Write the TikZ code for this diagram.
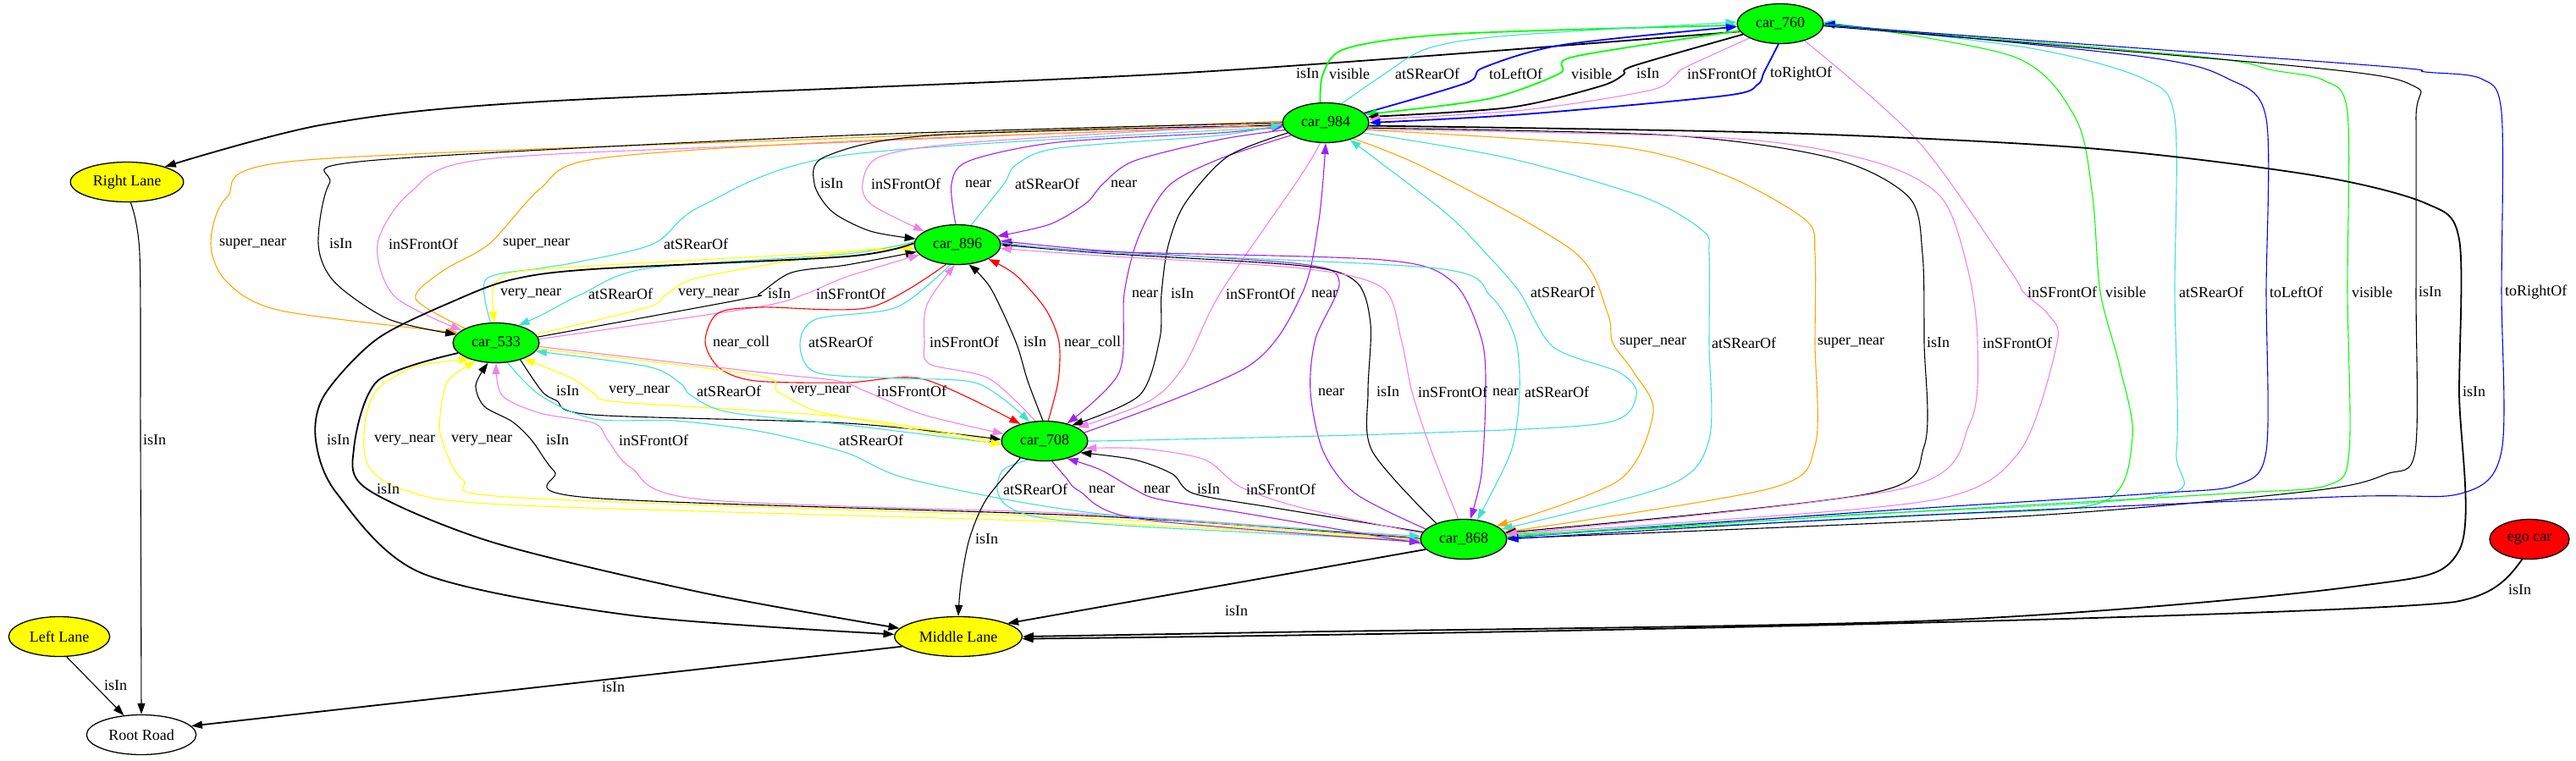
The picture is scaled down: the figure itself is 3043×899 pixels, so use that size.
\documentclass[tikz,border=0pt]{standalone}
\usepackage{fontspec}
\setmainfont{Liberation Serif}
\usetikzlibrary{arrows.meta,shapes.geometric}
\definecolor{vgreen}{RGB}{0,255,0}
\definecolor{turq}{RGB}{64,224,208}
\definecolor{viol}{RGB}{238,130,238}
\definecolor{purp}{RGB}{160,32,240}
\definecolor{orng}{RGB}{255,165,0}
\definecolor{yell}{RGB}{255,255,0}
\pgfdeclarelayer{edges}
\pgfsetlayers{edges,main}
\tikzset{
  obj/.style={ellipse, draw, line width=1.3pt, inner xsep=7pt, inner ysep=2pt,
              minimum height=47pt, font=\fontsize{18}{20}\selectfont},
  car/.style={obj, fill=vgreen},
  lane/.style={obj, fill=yell},
  lbl/.style={anchor=west, inner sep=1pt, font=\fontsize{18}{20}\selectfont},
  rel/.style={line width=1.1pt, -{Triangle[length=13pt,width=9pt]}},
  bold/.style={line width=1.8pt},
  isin/.style={rel, black},
  visib/.style={rel, vgreen},
  srear/.style={rel, turq},
  lrof/.style={rel, blue},
  sfront/.style={rel, viol},
  nearr/.style={rel, purp},
  snear/.style={rel, orng},
  vnear/.style={rel, yell},
  ncoll/.style={rel, red}
}

\begin{document}
\begin{tikzpicture}[x=1pt, y=-1pt]
    \useasboundingbox (0,0) rectangle (3043,899);

    % objects
    \node[car] (c760) at (2103,28)  {car\_760};
    \node[car] (c984) at (1566,145) {car\_984};
    \node[car] (c896) at (1131,289) {car\_896};
    \node[car] (c533) at (586,405)  {car\_533};
    \node[car] (c708) at (1234,521) {car\_708};
    \node[car] (c868) at (1729,637) {car\_868};
    \node[obj, fill=red] (ego) at (2988,637) {ego car};
    \node[lane] (rl) at (150,215)  {Right Lane};
    \node[lane] (ml) at (1132,752) {Middle Lane};
    \node[lane] (ll) at (70,752)   {Left Lane};
    \node[obj, fill=white] (rr) at (167,868) {Root Road};

    \begin{pgfonlayer}{edges}
    % car_760 <-> car_984
    \draw[isin,bold] plot[smooth] coordinates {(c760.191) (1400,86) (640,120) (383,147) (rl.22)};
    \draw[visib,bold] plot[smooth] coordinates {(c984.105) (1563,87) (1591,57) (1719,40) (c760.182)};
    \draw[srear] plot[smooth] coordinates {(c984.50) (1636,87) (1687,57) (1783,42) (c760.178)};
    \draw[lrof,bold] plot[smooth] coordinates {(c984.14) (1732,98) (1752,80) (1846,53) (c760.184)};
    \draw[visib,bold] plot[smooth] coordinates {(c760.190) (1859,67) (1842,87) (1757,117) (c984.12)};
    \draw[isin,bold] plot[smooth] coordinates {(c760.196) (1929,78) (1918,88) (1890,102) (1783,127) (c984.8)};
    \draw[sfront] plot[smooth] coordinates {(c760.205) (1990,80) (1978,90) (1948,107) (1800,130) (c984.4)};
    \draw[lrof,bold] plot[smooth] coordinates {(c760.265) (2084,85) (2076,100) (2038,113) (1800,135) (c984.0)};

    % car_760 <-> car_868
    \draw[sfront] plot[smooth] coordinates {(c760.-35) (2266,167) (2375,320) (2390,345) (2420,372) (2430,405) (2386,533) (2287,590) (1950,620) (c868.8)};
    \draw[visib] plot[smooth] coordinates {(c868.6) (2000,622) (2287,608) (2484,593) (2519,517) (2504,433) (2481,345) (2472,233) (2452,140) (2379,67) (c760.2)};
    \draw[srear] plot[smooth] coordinates {(c868.4) (2100,612) (2543,587) (2571,533) (2569,345) (2569,140) (2532,93) (2399,57) (c760.1)};
    \draw[lrof] plot[smooth] coordinates {(c868.2) (2200,605) (2543,583) (2642,573) (2677,533) (2677,345) (2677,140) (2632,93) (2532,67) (c760.0)};
    \draw[visib] plot[smooth] coordinates {(c760.-1) (2599,67) (2685,83) (2745,95) (2773,133) (2773,345) (2775,533) (2750,573) (2632,583) (2200,608) (c868.3)};
    \draw[isin] plot[smooth] coordinates {(c760.-3) (2732,80) (2852,102) (2854,140) (2854,345) (2853,533) (2819,560) (2730,580) (2386,610) (c868.1)};
    \draw[lrof] plot[smooth] coordinates {(c760.-2) (2798,77) (2865,85) (2931,93) (2955,133) (2955,345) (2955,533) (2907,583) (2760,587) (2200,612) (c868.0)};

    % car_984 -> car_868, Middle Lane
    \draw[snear] plot[smooth] coordinates {(c984.-30) (1687,200) (1859,297) (1899,370) (1905,405) (1930,440) (1953,487) (1913,567) (c868.22)};
    \draw[srear] plot[smooth] coordinates {(c984.-15) (1783,187) (1942,233) (2012,273) (2019,300) (2019,405) (2019,519) (1972,573) (c868.15)};
    \draw[snear] plot[smooth] coordinates {(c984.-10) (1910,173) (2038,207) (2133,260) (2144,300) (2144,405) (2144,527) (2091,577) (c868.10)};
    \draw[isin] plot[smooth] coordinates {(c984.-7) (1974,160) (2165,187) (2255,233) (2271,300) (2273,405) (2273,527) (2209,583) (c868.9)};
    \draw[sfront] plot[smooth] coordinates {(c984.-9) (2038,163) (2210,190) (2293,233) (2325,320) (2336,405) (2327,500) (2248,577) (c868.7)};
    \draw[isin,bold] plot[smooth] coordinates {(c984.-4) (2101,157) (2466,175) (2732,207) (2865,240) (2905,283) (2905,463) (2905,650) (2780,693) (2287,733) (1500,747) (ml.0)};

    % car_984 <-> car_533
    \draw[snear] plot[smooth] coordinates {(c984.178) (1000,163) (351,190) (268,233) (249,288) (268,333) (332,367) (c533.165)};
    \draw[isin] plot[smooth] coordinates {(c984.180) (1000,160) (434,190) (389,217) (376,288) (395,333) (459,377) (c533.168)};
    \draw[sfront] plot[smooth] coordinates {(c984.182) (1000,168) (574,188) (485,227) (446,288) (466,350) (c533.160)};
    \draw[snear] plot[smooth] coordinates {(c533.155) (491,353) (523,320) (578,288) (638,223) (702,188) (1000,167) (c984.184)};
    \draw[srear] plot[smooth] coordinates {(c533.105) (574,330) (638,317) (680,310) (772,288) (829,243) (1000,183) (c984.186)};

    % car_984 <-> car_896
    \draw[isin] plot[smooth] coordinates {(c984.183) (1100,160) (975,185) (962,217) (983,250) (1028,273) (c896.172)};
    \draw[sfront] plot[smooth] coordinates {(c984.181) (1150,168) (1040,185) (1019,217) (1030,242) (c896.158)};
    \draw[nearr] plot[smooth] coordinates {(c896.95) (1124,217) (1145,190) (1250,168) (1440,157) (c984.185)};
    \draw[srear] plot[smooth] coordinates {(c896.55) (1186,217) (1200,195) (1250,175) (1440,160) (c984.182)};
    \draw[nearr] plot[smooth] coordinates {(c984.190) (1440,165) (1340,190) (1303,217) (1283,240) (1240,265) (c896.12)};

    % car_984 <-> car_708
    \draw[nearr] plot[smooth] coordinates {(c984.200) (1440,188) (1380,220) (1345,280) (1328,347) (1322,440) (c708.38)};
    \draw[isin] plot[smooth] coordinates {(c984.195) (1450,185) (1400,240) (1380,290) (1372,347) (1370,400) (1346,467) (c708.30)};
    \draw[sfront] plot[smooth] coordinates {(c984.255) (1535,210) (1441,347) (1400,430) (1359,473) (c708.22)};
    \draw[nearr] plot[smooth] coordinates {(c708.12) (1474,433) (1538,347) (1558,260) (c984.270)};
    \draw[srear] plot[smooth] coordinates {(c708.0) (1346,520) (1665,512) (1894,500) (1933,467) (1913,440) (1835,410) (1795,345) (1756,300) (1706,250) (c984.-35)};

    % car_896 <-> car_533
    \draw[vnear] plot[smooth] coordinates {(c896.178) (1000,297) (640,318) (590,330) (582,347) (c533.95)};
    \draw[srear] plot[smooth] coordinates {(c896.176) (1000,300) (765,317) (688,347) (640,372) (c533.38)};
    \draw[vnear] plot[smooth] coordinates {(c533.12) (765,363) (788,347) (829,327) (1000,298) (c896.185)};
    \draw[isin] plot[smooth] coordinates {(c533.8) (880,353) (897,347) (935,322) (1000,313) (c896.190)};
    \draw[sfront] plot[smooth] coordinates {(c533.5) (893,363) (952,347) (1000,327) (c896.195)};

    % car_896 <-> car_708
    \draw[ncoll] plot[smooth] coordinates {(c896.240) (1028,363) (900,363) (848,370) (833,404) (850,435) (893,450) (1000,452) (1091,448) (c708.145)};
    \draw[srear] plot[smooth] coordinates {(c896.250) (1059,363) (964,377) (945,407) (964,440) (1059,447) (1155,453) (c708.128)};
    \draw[sfront] plot[smooth] coordinates {(c708.115) (1168,447) (1098,430) (1092,404) (1095,360) (c896.262)};
    \draw[isin] plot[smooth] coordinates {(c708.95) (1214,450) (1200,404) (1170,340) (c896.300)};
    \draw[ncoll] plot[smooth] coordinates {(c708.80) (1250,450) (1251,404) (1235,365) (1200,325) (c896.335)};

    % car_868 <-> car_896
    \draw[nearr] plot[smooth] coordinates {(c868.165) (1601,583) (1563,533) (1548,463) (1554,400) (1582,333) (1538,312) (1300,296) (c896.5)};
    \draw[isin] plot[smooth] coordinates {(c868.150) (1621,533) (1616,463) (1619,383) (1602,333) (1538,314) (1300,299) (c896.0)};
    \draw[sfront] plot[smooth] coordinates {(c868.105) (1691,533) (1668,463) (1655,400) (1633,340) (1538,317) (1300,302) (c896.-5)};
    \draw[nearr] plot[smooth] coordinates {(c896.2) (1300,297) (1633,307) (1716,333) (1750,400) (1755,463) (1750,560) (c868.72)};
    \draw[srear] plot[smooth] coordinates {(c896.3) (1300,298) (1697,317) (1761,350) (1790,400) (1795,463) (1785,533) (c868.55)};

    % car_533 <-> car_708
    \draw[isin] plot[smooth] coordinates {(c533.-35) (640,462) (657,473) (700,490) (1000,500) (c708.178)};
    \draw[vnear] plot[smooth] coordinates {(c708.182) (1000,493) (733,475) (702,465) (676,447) (c533.-30)};
    \draw[srear] plot[smooth] coordinates {(c708.184) (1000,502) (861,487) (816,467) (804,453) (765,433) (c533.-12)};
    \draw[vnear] plot[smooth] coordinates {(c533.-8) (893,443) (918,462) (957,483) (1000,493) (c708.185)};
    \draw[sfront] plot[smooth] coordinates {(c533.-5) (900,440) (990,450) (1022,462) (1091,490) (c708.170)};

    % car_868 <-> car_533
    \draw[vnear] plot[smooth] coordinates {(c868.182) (1300,618) (614,597) (481,580) (435,550) (431,500) (446,460) (491,433) (c533.212)};
    \draw[vnear] plot[smooth] coordinates {(c868.181) (1300,613) (614,588) (547,567) (522,520) (520,490) (529,450) (c533.222)};
    \draw[isin] plot[smooth] coordinates {(c868.179) (1300,610) (697,588) (655,557) (628,520) (605,498) (572,480) (562,455) (c533.248)};
    \draw[sfront] plot[smooth] coordinates {(c868.178) (1300,608) (829,590) (746,553) (718,520) (702,500) (638,488) (593,467) (c533.270)};
    \draw[srear] plot[smooth] coordinates {(c533.-60) (638,467) (702,495) (797,497) (900,510) (1000,535) (1078,567) (1300,607) (c868.176)};

    % car_708 <-> car_868
    \draw[srear] plot[smooth] coordinates {(c708.228) (1185,555) (1178,578) (1190,598) (1232,612) (1346,622) (c868.182)};
    \draw[nearr] plot[smooth] coordinates {(c708.-70) (1260,565) (1275,580) (1346,613) (c868.184)};
    \draw[nearr] plot[smooth] coordinates {(c868.186) (1474,607) (1370,590) (1340,578) (1300,555) (c708.-38)};
    \draw[isin] plot[smooth] coordinates {(c868.170) (1506,600) (1410,583) (1385,560) (1340,543) (c708.-18)};
    \draw[sfront] plot[smooth] coordinates {(c868.172) (1538,600) (1465,575) (1423,543) (1350,530) (c708.-10)};

    % lanes and road
    \draw[isin] plot[smooth] coordinates {(c708.215) (1165,590) (1145,637) (1135,690) (ml.90)};
    \draw[isin,bold] plot[smooth] coordinates {(c533.195) (446,450) (418,530) (434,578) (580,640) (829,700) (ml.172)};
    \draw[isin,bold] plot[smooth] coordinates {(c896.178) (1000,303) (700,318) (606,330) (542,353) (446,400) (383,467) (373,520) (398,583) (498,677) (746,727) (ml.178)};
    \draw[isin,bold] (c868.195) -- (ml.15);
    \draw[isin,bold] (ego.250) .. controls (2962,685) and (2945,703) .. (2900,711)
                     .. controls (2800,724) and (2000,746) .. (ml.-2);
    \draw[isin,bold] (ml.190) -- (rr.10);
    \draw[isin] plot[smooth] coordinates {(rl.-80) (165,300) (166,520) (rr.90)};
    \draw[isin] (ll.-70) -- (rr.132);
    \end{pgfonlayer}

    % labels: car_760 <-> car_984
    \node[lbl] (l1) at (1530,87) {isIn};
    \node[lbl] (l2) at (1569,87) {visible};
    \node[lbl] (l3) at (1647,87) {atSRearOf};
    \node[lbl] (l4) at (1758,87) {toLeftOf};
    \node[lbl] (l5) at (1855,87) {visible};
    \node[lbl] (l6) at (1932,87) {isIn};
    \node[lbl] (l7) at (1992,87) {inSFrontOf};
    \node[lbl] (l8) at (2090,87) {toRightOf};
    % labels: car_760 <-> car_868
    \node[lbl] (l9)  at (2394,345) {inSFrontOf};
    \node[lbl] (l10) at (2486,345) {visible};
    \node[lbl] (l11) at (2573,345) {atSRearOf};
    \node[lbl] (l12) at (2680,345) {toLeftOf};
    \node[lbl] (l13) at (2777,345) {visible};
    \node[lbl] (l14) at (2856,345) {isIn};
    \node[lbl] (l15) at (2958,345) {toRightOf};
    % labels: car_984 -> car_868, Middle Lane
    \node[lbl] (l16) at (1912,405) {super\_near};
    \node[lbl] (l17) at (2021,405) {atSRearOf};
    \node[lbl] (l18) at (2146,405) {super\_near};
    \node[lbl] (l19) at (2275,405) {isIn};
    \node[lbl] (l20) at (2341,405) {inSFrontOf};
    \node[lbl] (l21) at (2908,463) {isIn};
    % labels: car_984 <-> car_533
    \node[lbl] (l22) at (258,288) {super\_near};
    \node[lbl] (l23) at (388,288) {isIn};
    \node[lbl] (l24) at (458,288) {inSFrontOf};
    \node[lbl] (l25) at (593,288) {super\_near};
    \node[lbl] (l26) at (783,288) {atSRearOf};
    % labels: car_984 <-> car_896
    \node[lbl] (l27) at (968,217)  {isIn};
    \node[lbl] (l28) at (1028,217) {inSFrontOf};
    \node[lbl] (l29) at (1139,217) {near};
    \node[lbl] (l30) at (1198,217) {atSRearOf};
    \node[lbl] (l31) at (1311,217) {near};
    % labels: car_984 <-> car_708
    \node[lbl] (l32) at (1336,347) {near};
    \node[lbl] (l33) at (1382,347) {isIn};
    \node[lbl] (l34) at (1447,347) {inSFrontOf};
    \node[lbl] (l35) at (1548,347) {near};
    \node[lbl] (l36) at (1807,345) {atSRearOf};
    % labels: car_896 <-> car_533
    \node[lbl] (l37) at (590,347) {very\_near};
    \node[lbl] (l38) at (694,347) {atSRearOf};
    \node[lbl] (l39) at (800,347) {very\_near};
    \node[lbl] (l40) at (906,347) {isIn};
    \node[lbl] (l41) at (963,347) {inSFrontOf};
    % labels: car_896 <-> car_708
    \node[lbl] (l42) at (841,404)  {near\_coll};
    \node[lbl] (l43) at (954,404)  {atSRearOf};
    \node[lbl] (l44) at (1097,404) {inSFrontOf};
    \node[lbl] (l45) at (1208,404) {isIn};
    \node[lbl] (l46) at (1256,404) {near\_coll};
    % labels: car_868 <-> car_896
    \node[lbl] (l47) at (1556,463) {near};
    \node[lbl] (l48) at (1625,463) {isIn};
    \node[lbl] (l49) at (1674,463) {inSFrontOf};
    \node[lbl] (l50) at (1762,463) {near};
    \node[lbl] (l51) at (1800,463) {atSRearOf};
    % labels: car_533 <-> car_708
    \node[lbl] (l52) at (656,462)  {isIn};
    \node[lbl] (l53) at (718,462)  {very\_near};
    \node[lbl] (l54) at (822,462)  {atSRearOf};
    \node[lbl] (l55) at (932,462)  {very\_near};
    \node[lbl] (l56) at (1035,462) {inSFrontOf};
    % labels: car_868 <-> car_533
    \node[lbl] (l57) at (441,520) {very\_near};
    \node[lbl] (l58) at (532,520) {very\_near};
    \node[lbl] (l59) at (644,520) {isIn};
    \node[lbl] (l60) at (730,520) {inSFrontOf};
    \node[lbl] (l61) at (990,520) {atSRearOf};
    % labels: car_708 <-> car_868
    \node[lbl] (l62) at (1184,578) {atSRearOf};
    \node[lbl] (l63) at (1285,578) {near};
    \node[lbl] (l64) at (1350,578) {near};
    \node[lbl] (l65) at (1413,578) {isIn};
    \node[lbl] (l66) at (1471,578) {inSFrontOf};
    % labels: lanes and road
    \node[lbl] (l67) at (1151,637) {isIn};
    \node[lbl] (l68) at (444,578)  {isIn};
    \node[lbl] (l69) at (385,520)  {isIn};
    \node[lbl] (l70) at (1446,722) {isIn};
    \node[lbl] (l71) at (2962,697) {isIn};
    \node[lbl] (l72) at (710,812)  {isIn};
    \node[lbl] (l73) at (168,520)  {isIn};
    \node[lbl] (l74) at (122,810)  {isIn};
\end{tikzpicture}
\end{document}
